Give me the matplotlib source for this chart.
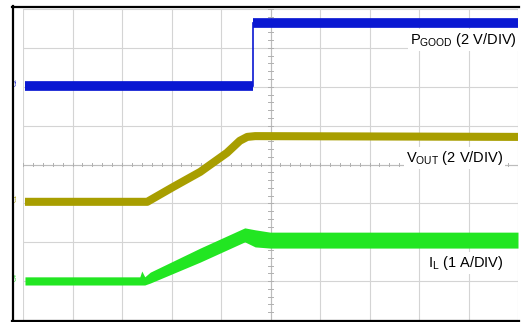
import numpy as np
import matplotlib
matplotlib.use("Agg")
import matplotlib.pyplot as plt
from matplotlib.lines import Line2D

plt.rcParams['font.family'] = ['Liberation Sans', 'DejaVu Sans']
plt.rcParams['mathtext.fontset'] = 'custom'
plt.rcParams['mathtext.rm'] = 'Liberation Sans'
plt.rcParams['mathtext.it'] = 'Liberation Sans'

# Time axis and levels in scope divisions (10 horizontal x 8 vertical)
pgood_t = [0.04, 4.65, 4.65, 10.0]
pgood_v = [6.02, 6.02, 7.64, 7.64]

vout_t = [0.04, 2.51, 3.03, 3.58, 4.12, 4.38, 4.53, 4.69, 10.0]
vout_v = [3.04, 3.04, 3.42, 3.81, 4.30, 4.61, 4.71, 4.73, 4.71]

il_t = [0.04, 2.36, 2.40, 2.46, 2.57, 3.58, 4.48, 4.69, 4.99, 10.0]
il_top = [1.11, 1.11, 1.26, 1.11, 1.23, 1.85, 2.37, 2.32, 2.26, 2.26]
il_bot = [0.90, 0.90, 0.90, 0.90, 0.95, 1.49, 2.01, 1.88, 1.85, 1.85]

labels = ["P$_{\\mathrm{GOOD}}$ (2 V/DIV)", "V$_{\\mathrm{OUT}}$ (2 V/DIV)", "I$_{\\mathrm{L}}$ (1 A/DIV)"]
markers = ["C2", "C1", "C4"]

c_blue = "#0A18D2"
c_olive = "#A89E00"
c_green = "#22E622"

W, H = 523, 322
fig = plt.figure(figsize=(W / 100, H / 100), dpi=100)
fig.patch.set_facecolor("white")
ax = fig.add_axes([23 / W, 1 - 320 / H, (518 - 23) / W, (320 - 9) / H])
ax.set_xlim(0, 10)
ax.set_ylim(0, 8)
ax.set_xticks([])
ax.set_yticks([])
for s in ax.spines.values():
    s.set_visible(False)

# grid
for i in range(11):
    ax.axvline(i, color="#d4d4d4", lw=0.8, zorder=0)
for j in range(9):
    ax.axhline(j, color="#d4d4d4", lw=0.8, zorder=0)
ax.axvline(5, color="#bcbcbc", lw=0.8, zorder=0)
ax.axhline(4, color="#bcbcbc", lw=0.8, zorder=0)
for k in np.arange(0, 10.01, 0.2):
    ax.plot([k, k], [3.95, 4.05], color="#b0b0b0", lw=0.7, zorder=0)
for k in np.arange(0, 8.01, 0.2):
    ax.plot([4.94, 5.06], [k, k], color="#b0b0b0", lw=0.7, zorder=0)

# traces: PGOOD as low/high segments plus a thin edge
n = len(pgood_t)
for i in range(n - 1):
    if pgood_t[i] == pgood_t[i + 1]:
        ax.plot(pgood_t[i:i + 2], pgood_v[i:i + 2], color=c_blue, lw=1.2, zorder=3)
    else:
        ax.plot(pgood_t[i:i + 2], pgood_v[i:i + 2], color=c_blue, lw=7.0,
                solid_capstyle="butt", zorder=3)
ax.plot(vout_t, vout_v, color=c_olive, lw=5.8, solid_joinstyle="round", solid_capstyle="butt", zorder=3)
ax.fill_between(il_t, il_bot, il_top, color=c_green, lw=0, zorder=3)

# labels
lab_x = [9.98, 9.70, 9.70]
lab_y = [7.09, 4.07, 1.37]
for lx, ly, t in zip(lab_x, lab_y, labels):
    ax.text(lx, ly, t, ha="right", va="baseline", fontsize=10.5, color="black",
            bbox=dict(facecolor="white", edgecolor="none", pad=1.5), zorder=5)

# channel markers
for (ly, t, c) in zip([6.02, 3.04, 1.0], markers, [c_blue, c_olive, c_green]):
    ax.text(-0.16, ly + 0.1, t, rotation=90, fontsize=4.5, color=c, ha="center", va="center", clip_on=False)

# outer black frame
fig.add_artist(Line2D([12.5 / W, 12.5 / W], [1 - 6 / H, 1 - 321 / H], color="black", lw=1.6))
fig.add_artist(Line2D([12 / W, 519 / W], [1 - 6.5 / H, 1 - 6.5 / H], color="black", lw=1.6))
fig.add_artist(Line2D([12 / W, 519 / W], [1 - 320.5 / H, 1 - 320.5 / H], color="black", lw=1.6))

fig.savefig("out.png", dpi=100, facecolor="white")
